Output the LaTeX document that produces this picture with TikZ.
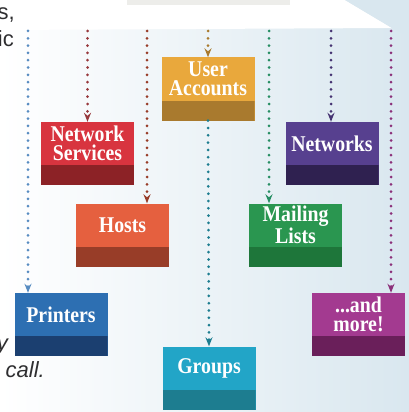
\documentclass[tikz,border=0pt]{standalone}
\usepackage{fontspec}
\usetikzlibrary{arrows.meta,positioning}
\newfontfamily\tilefont{Liberation Serif}[FakeStretch=0.88]
\newfontfamily\asidefont{Liberation Sans}
\definecolor{bgInk}{HTML}{2E2E30}
\definecolor{bgPale}{HTML}{F1F3F4}
\definecolor{bgCloud}{HTML}{D9E7EF}
\definecolor{bgBar}{HTML}{EDEDEA}
\definecolor{tileGold}{HTML}{E9A83C}
\definecolor{tileGoldDark}{HTML}{A97A2E}
\definecolor{tileRed}{HTML}{D8343F}
\definecolor{tileRedDark}{HTML}{8C2226}
\definecolor{tilePurple}{HTML}{57408F}
\definecolor{tilePurpleDark}{HTML}{2F2150}
\definecolor{tileCoral}{HTML}{E5603F}
\definecolor{tileCoralDark}{HTML}{983D28}
\definecolor{tileGreen}{HTML}{2A9650}
\definecolor{tileGreenDark}{HTML}{1E763A}
\definecolor{tileBlue}{HTML}{2D6FB2}
\definecolor{tileBlueDark}{HTML}{1B3F70}
\definecolor{tileMagenta}{HTML}{A33A90}
\definecolor{tileMagentaDark}{HTML}{6A1F5A}
\definecolor{tileCyan}{HTML}{22A5C7}
\definecolor{tileCyanDark}{HTML}{1D7D90}
\tikzset{
  tile/.style={
    fill=tile#1, minimum width=93pt, minimum height=63pt, inner sep=0pt,
    path picture={
      \fill[tile#1Dark] (path picture bounding box.south west)
        rectangle ([yshift=20pt]path picture bounding box.south east);
    }
  },
  tile text/.style={
    text=white, align=center, yshift=10pt, inner sep=0pt,
    font=\tilefont\bfseries\fontsize{22.5}{19}\selectfont
  },
  feed/.style={
    draw=#1, line width=3pt, line cap=round,
    dash pattern=on 0pt off 7.3pt,
    -{Stealth[length=9pt,width=7pt,inset=3pt]}
  },
  aside/.style={
    text=bgInk, anchor=base east, inner sep=0pt,
    font=\asidefont\fontsize{22}{27}\selectfont
  }
}

\begin{document}
\begin{tikzpicture}[x=1pt,y=-1pt]
  \useasboundingbox (0,0) rectangle (409,412);
  \clip (0,0) rectangle (409,412);

  % paper
  \shade[left color=white, right color=bgCloud] (0,0) rectangle (409,412);
  \fill[white] (0,0) -- (345,0) -- (392,28) -- (0,30) -- cycle;
  \fill[bgCloud] (345,0) -- (409,0) -- (409,36) -- (392,28) -- cycle;
  \fill[bgBar] (127,0) rectangle (290,5);

  % cut-off side text
  \node[aside] (sideA) at (15,20) {s,};
  \node[aside] (sideB) at (14,47) {ic};
  \node[aside, font=\asidefont\itshape\fontsize{22}{27}\selectfont] (sideC) at (8,350) {y};
  \node[aside, font=\asidefont\itshape\fontsize{22}{27}\selectfont] (sideD) at (45,377) {s call.};

  % tiles
  \foreach \nm/\x/\y/\c/\txt in {
      accts/208/89/Gold/{User\\Accounts},
      netsvc/87.5/153.5/Red/{Network\\Services},
      nets/332/153.5/Purple/{Networks},
      hosts/122.5/235/Coral/{Hosts},
      mail/295.5/235/Green/{Mailing\\Lists},
      prn/61/324.5/Blue/{Printers},
      more/358.5/324.5/Magenta/{...and\\more!},
      grps/209/378/Cyan/{Groups}} {
    \node[tile=\c, label={[tile text, name=\nm-t]center:\txt}] (\nm) at (\x,\y) {};
  }

  % feeds from above
  \coordinate (inPrn) at (28,31);
  \coordinate (inSvc) at (87.5,31);
  \coordinate (inHosts) at (147,31);
  \coordinate (inAccts) at (208,31);
  \coordinate (inMail) at (269,31);
  \coordinate (inNets) at (331,31);
  \coordinate (inMore) at (391,31);

  \draw[feed=tileBlue!80!white] (inPrn) -- (inPrn |- prn.north);
  \draw[feed=tileRedDark!90!white] (inSvc) -- (inSvc |- netsvc.north);
  \draw[feed=tileCoralDark] (inHosts) -- (inHosts |- hosts.north);
  \draw[feed=tileGoldDark] (inAccts) -- (inAccts |- accts.north);
  \draw[feed=tileCyanDark] (accts.south) -- (grps.north);
  \draw[feed=tileGreen!70!tileCyanDark] (inMail) -- (inMail |- mail.north);
  \draw[feed=tilePurple!80!black] (inNets) -- (inNets |- nets.north);
  \draw[feed=tileMagenta!85!black] (inMore) -- (inMore |- more.north);
\end{tikzpicture}
\end{document}
